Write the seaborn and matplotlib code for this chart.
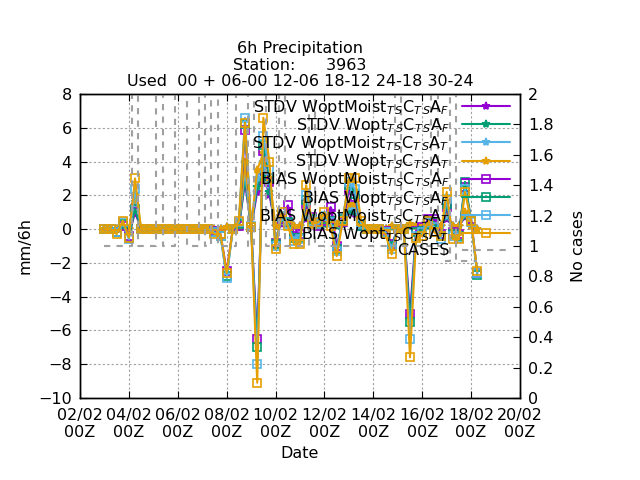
import matplotlib
matplotlib.use("Agg")
import matplotlib.pyplot as plt
import seaborn as sns
import pandas as pd

# 6-hourly verification times, 03/02 00Z .. 18/02 06Z
times = pd.date_range("2000-02-03 00:00", periods=62, freq="6h")

bias_wopt_t = [0, 0, -0.3, 0.5, -0.5, 3.0, 0, 0, 0, 0, 0, 0, 0, 0, 0, 0, 0, 0, -0.3, -0.3,
               -2.6, 0, 0.5, 6.3, 0.1, -9.1, 6.6, 4.0, -1.2, 1.0, 0.2, -0.9, -0.9, 2.6, 0.3, 0.4,
               1.0, 0.2, -1.6, 0.5, 3.0, 3.0, 0.5, 0, 0, 0, -0.3, -1.5, 0, 0,
               -7.6, -0.5, -0.4, 0.5, -0.2, -0.4, 2.2, -0.6, -0.6, 2.2, 0.5, -2.5]
bias_woptmoist_t = [0, 0, -0.2, 0.4, -0.6, 2.4, 0, 0, 0, 0, 0, 0, 0, 0, 0, 0, 0, 0, -0.2, -0.4,
                    -2.9, 0, 0.4, 6.6, 0.2, -8.0, 5.5, 3.5, -1.0, 0.8, 0.3, -0.7, -0.6, 2.0, 0.5, 0.3,
                    0.8, 0.4, -1.3, 0.7, 2.8, 2.4, 0.3, 0, 0, 0, -0.2, -1.2, 0, 0,
                    -6.5, -0.4, -0.2, 0.4, 0.1, -0.6, 1.8, -0.4, -0.5, 2.4, 0.4, -2.6]
bias_wopt_f = [0, 0, -0.2, 0.3, -0.5, 1.2, 0, 0, 0, 0, 0, 0, 0, 0, 0, 0, 0, 0, -0.2, -0.4,
               -2.8, 0, 0.3, 6.2, 0.1, -7.0, 5.0, 3.0, -0.9, 0.7, 0.4, -0.5, -0.5, 1.7, 0.6, 0.3,
               0.6, 0.5, -1.2, 0.6, 2.6, 2.1, 0.2, 0, 0, 0, -0.2, -1.0, 0, 0,
               -5.5, -0.2, -0.1, 0.5, 0.4, -0.4, 1.5, -0.3, -0.4, 2.8, 0.5, -2.7]
bias_woptmoist_f = [0, 0, -0.2, 0.2, -0.4, 1.0, 0, 0, 0, 0, 0, 0, 0, 0, 0, 0, 0, 0, -0.1, -0.3,
                    -2.5, 0, 0.2, 5.9, 0.1, -6.5, 4.6, 2.8, -0.8, 0.6, 1.4, -0.4, -0.3, 1.5, 0.7, 0.2,
                    0.5, 1.3, -1.0, 0.4, 2.3, 1.9, 0.2, 0, 0, 0, -0.1, -0.9, 0, 0,
                    -5.0, -0.1, 0.1, 0.6, 0.6, -0.3, 1.3, -0.2, -0.3, 2.5, 0.6, -2.6]
stdv_wopt_t = [0, 0, 0, 0.1, 0, 2.0, 0, 0, 0, 0, 0, 0, 0, 0, 0, 0, 0, 0, 0, 0,
               0.1, 0, 0.2, 4.0, 0.1, 3.5, 4.5, 3.0, 0.2, 0.5, 0.3, 0.2, 0.2, 1.0, 0.3, 0.2,
               0.5, 0.3, 0.3, 0.4, 1.5, 1.5, 0.3, 0, 0, 0, 0, 0.2, 0, 0,
               0.3, 0.2, 0.2, 0.3, 0.2, 0.2, 1.0, 0.2, 0.2, 1.0, 0.2, 0]
stdv_woptmoist_t = [0, 0, 0, 0.1, 0, 1.6, 0, 0, 0, 0, 0, 0, 0, 0, 0, 0, 0, 0, 0, 0,
                    0.1, 0, 0.2, 3.5, 0.1, 3.0, 4.0, 2.6, 0.2, 0.4, 0.3, 0.2, 0.2, 0.8, 0.3, 0.2,
                    0.4, 0.3, 0.3, 0.4, 1.3, 1.2, 0.3, 0, 0, 0, 0, 0.2, 0, 0,
                    0.3, 0.2, 0.2, 0.3, 0.2, 0.2, 0.8, 0.2, 0.2, 0.9, 0.2, 0]
stdv_wopt_f = [0, 0, 0, 0.1, 0, 1.2, 0, 0, 0, 0, 0, 0, 0, 0, 0, 0, 0, 0, 0, 0,
               0.1, 0, 0.1, 3.0, 0.1, 2.5, 3.5, 2.2, 0.2, 0.4, 0.3, 0.2, 0.2, 0.7, 0.3, 0.2,
               0.3, 0.3, 0.2, 0.3, 1.1, 1.0, 0.2, 0, 0, 0, 0, 0.1, 0, 0,
               0.2, 0.2, 0.1, 0.2, 0.2, 0.2, 0.7, 0.2, 0.2, 0.8, 0.2, 0]
stdv_woptmoist_f = [0, 0, 0, 0.1, 0, 1.4, 0, 0, 0, 0, 0, 0, 0, 0, 0, 0, 0, 0, 0, 0,
                    0.1, 0, 0.1, 2.8, 0.1, 2.2, 3.2, 2.0, 0.2, 0.3, 1.2, 0.2, 0.2, 0.6, 0.3, 0.2,
                    0.3, 1.1, 0.2, 0.3, 1.0, 0.9, 0.2, 0, 0, 0, 0, 0.1, 0, 0,
                    0.2, 0.2, 0.1, 0.2, 0.5, 0.2, 0.6, 0.2, 0.2, 0.7, 0.2, 0]
cases = [1, 1, 1, 1, 1, 2, 1, 1, 1, 2, 1, 1, 2, 2, 1, 1, 2, 1, 2, 1,
         1, 1, 2, 2, 1, 2, 2, 1, 1, 2, 1, 1, 1, 1, 2, 1,
         1, 1, 1, 1, 1, 1, 1, 1, 1, 1, 1, 1, 2, 1,
         1, 1, 1, 1, 2, 1, 0.9, 2, 0.9, 0.9, 0.9, 0.9]

PURPLE, GREEN, BLUE, ORANGE = "#9400d3", "#009e73", "#56b4e9", "#e69f00"
series = [
    ("STDV WoptMoist$_{T\\,S}$C$_{T\\,S}$A$_F$", stdv_woptmoist_f, PURPLE, "*"),
    ("STDV Wopt$_{T\\,S}$C$_{T\\,S}$A$_F$", stdv_wopt_f, GREEN, "*"),
    ("STDV WoptMoist$_{T\\,S}$C$_{T\\,S}$A$_T$", stdv_woptmoist_t, BLUE, "*"),
    ("STDV Wopt$_{T\\,S}$C$_{T\\,S}$A$_T$", stdv_wopt_t, ORANGE, "*"),
    ("BIAS WoptMoist$_{T\\,S}$C$_{T\\,S}$A$_F$", bias_woptmoist_f, PURPLE, "s"),
    ("BIAS Wopt$_{T\\,S}$C$_{T\\,S}$A$_F$", bias_wopt_f, GREEN, "s"),
    ("BIAS WoptMoist$_{T\\,S}$C$_{T\\,S}$A$_T$", bias_woptmoist_t, BLUE, "s"),
    ("BIAS Wopt$_{T\\,S}$C$_{T\\,S}$A$_T$", bias_wopt_t, ORANGE, "s"),
]

sns.set_style("ticks")
plt.rcParams["font.family"] = ["DejaVu Sans"]
plt.rcParams["text.color"] = "black"
plt.rcParams["axes.labelcolor"] = "black"
plt.rcParams["xtick.color"] = "black"
plt.rcParams["ytick.color"] = "black"
fig, ax = plt.subplots(figsize=(6.4, 4.8), dpi=100)
fig.subplots_adjust(left=0.125, right=0.8125, bottom=0.171, top=0.804)
ax2 = ax.twinx()

handles = []
for label, vals, col, mk in series:
    sns.lineplot(x=times, y=vals, ax=ax, color=col, marker=mk, markersize=6,
                 markerfacecolor="none" if mk == "s" else col, markeredgecolor=col,
                 markeredgewidth=1.2, linewidth=1.5, label=label, legend=False)
    handles.append(ax.lines[-1])
sns.lineplot(x=times, y=cases, ax=ax2, color="#a0a0a0", linestyle=(0, (3, 3)),
             linewidth=1.5, drawstyle="steps-mid", legend=False)
handles.append(ax2.lines[-1])
labels = [s[0] for s in series] + ["CASES"]

ax.set_ylim(-10, 8)
ax.set_yticks(range(-10, 9, 2))
ax2.set_ylim(0, 2)
ax2.set_yticks([i / 10 for i in range(0, 21, 2)])
ax2.set_yticklabels(["0"] + [f"{i/10:g}" for i in range(2, 21, 2)])
ticks = pd.date_range("2000-02-02", "2000-02-20", freq="2D")
ax.set_xlim(ticks[0], ticks[-1])
ax.set_xticks(ticks)
ax.set_xticklabels([t.strftime("%d/%m\n%HZ") for t in ticks])
ax.grid(True, color="#a0a0a0", linestyle=(0, (2, 2)), linewidth=0.8)
ax.tick_params(axis="x", top=True, pad=7)
ax.tick_params(axis="y", pad=6)
ax2.tick_params(axis="y", pad=6)
for a in (ax, ax2):
    a.tick_params(direction="in", labelsize=11.5, length=5)
    for s in a.spines.values():
        s.set_linewidth(1)
        s.set_color("black")
ax.set_xlabel("Date", fontsize=11.5)
ax.set_ylabel("mm/6h", fontsize=11.5)
ax2.set_ylabel("No cases", fontsize=11.5, labelpad=12)
ax.set_title("6h Precipitation\nStation:      3963\nUsed  00 + 06-00 12-06 18-12 24-18 30-24",
             fontsize=11.5, linespacing=1.1)

leg = ax2.legend(handles, labels, loc="upper right", bbox_to_anchor=(1.0, 1.02), frameon=False,
                 markerfirst=False, fontsize=11.5, handlelength=3, labelspacing=-0.05,
                 borderaxespad=0.2)
for t in leg.get_texts():
    t.set_ha("right")

fig.savefig("out.png", dpi=100)
